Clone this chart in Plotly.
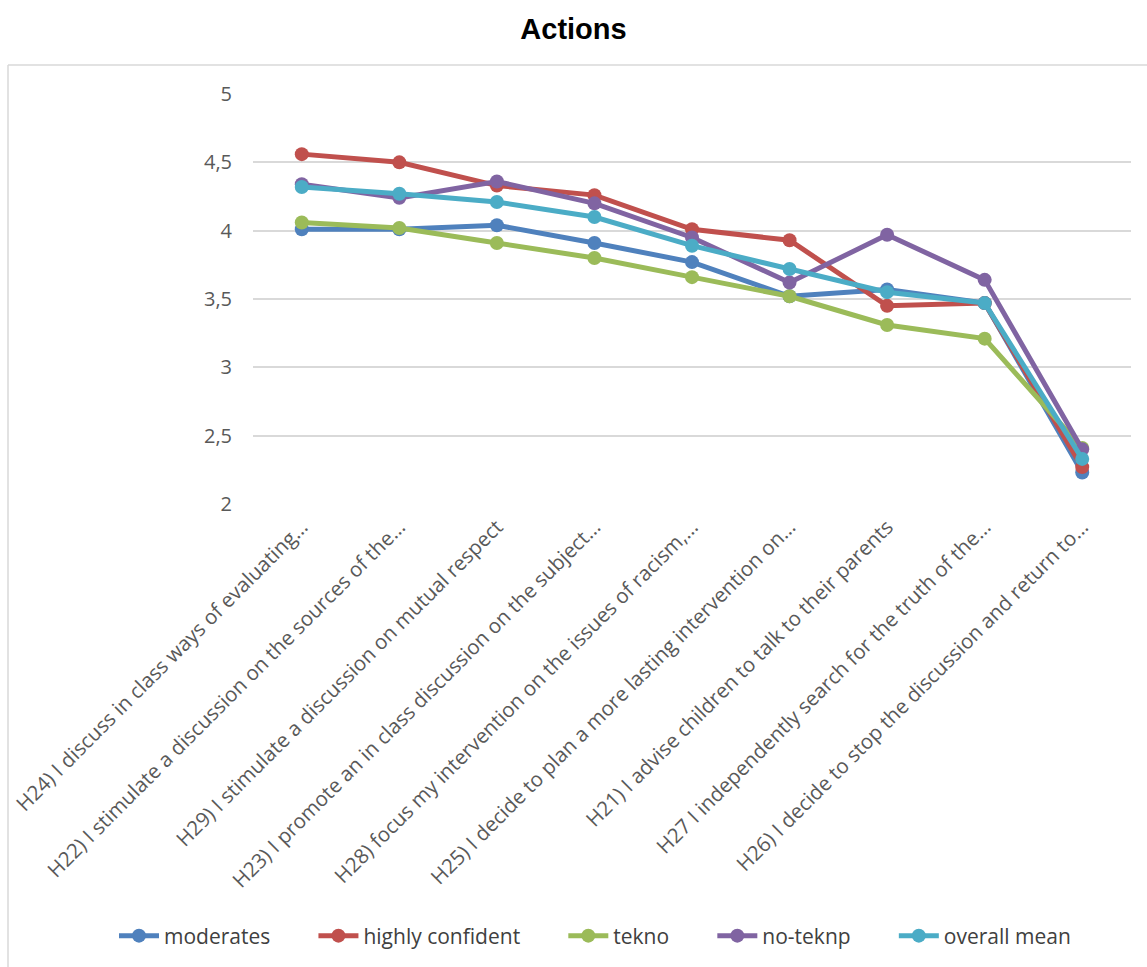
import plotly.graph_objects as go

categories = [
    "H24) I discuss in class ways of evaluating…",
    "H22) I stimulate a discussion on the sources of the…",
    "H29) I stimulate a discussion on mutual respect",
    "H23) I promote an in class discussion on the subject…",
    "H28) focus my intervention on the issues of racism,…",
    "H25) I decide to plan a more lasting intervention on…",
    "H21) I advise children to talk to their parents",
    "H27 I independently search for the truth of the…",
    "H26) I decide to stop the discussion and return to…",
]

moderates = [4.01, 4.01, 4.04, 3.91, 3.77, 3.52, 3.57, 3.47, 2.23]
highly_confident = [4.56, 4.50, 4.33, 4.26, 4.01, 3.93, 3.45, 3.47, 2.27]
tekno = [4.06, 4.02, 3.91, 3.80, 3.66, 3.52, 3.31, 3.21, 2.41]
no_teknp = [4.34, 4.24, 4.36, 4.20, 3.95, 3.62, 3.97, 3.64, 2.40]
overall_mean = [4.32, 4.27, 4.21, 4.10, 3.89, 3.72, 3.55, 3.47, 2.33]

series_names = ["moderates", "highly confident", "tekno", "no-teknp", "overall mean"]
series_values = [moderates, highly_confident, tekno, no_teknp, overall_mean]
series_colors = ["#4F81BD", "#C0504D", "#9BBB59", "#8064A2", "#4BACC6"]
legend_pad = [7, 7, 7, 7, 0]  # trailing non-breaking spaces to widen legend item gaps

y_ticks = [2, 2.5, 3, 3.5, 4, 4.5, 5]
y_tick_labels = ["2", "2,5", "3", "3,5", "4", "4,5", "5"]

fig = go.Figure()
for name, vals, color, pad in zip(series_names, series_values, series_colors, legend_pad):
    fig.add_trace(go.Scatter(
        x=categories, y=vals, name=name + "\u00a0" * pad, mode="lines+markers",
        line=dict(color=color, width=5),
        marker=dict(color=color, size=14),
    ))

W, H = 1147, 967
L, R, T, B = 253, 16, 94, 463
pw, ph = W - L - R, H - T - B

def px_x(p):
    return (p - L) / pw

def px_y(p):
    return (H - B - p) / ph

fig.update_layout(
    width=W, height=H,
    margin=dict(l=L, r=R, t=T, b=B, autoexpand=False),
    paper_bgcolor="white", plot_bgcolor="white",
    title=dict(text="<b>Actions</b>", x=0.5, xref="container", xanchor="center",
               y=1 - 29 / H, yref="container", yanchor="middle",
               font=dict(family="Liberation Sans, Arial", size=29, color="black")),
    font=dict(family="Open Sans", color="#595959"),
    showlegend=True,
    legend=dict(orientation="h", x=px_x(114), xref="paper", xanchor="left",
                y=px_y(936), yref="paper", yanchor="middle",
                font=dict(family="Open Sans", size=21, color="#404040"),
                itemwidth=40, traceorder="normal"),
    xaxis=dict(
        type="category", tickangle=-45, showgrid=False, showline=False,
        ticks="", tickfont=dict(size=20.5, color="#595959"),
        ticklabelstandoff=6,
        range=[-0.5, len(categories) - 0.5],
    ),
    yaxis=dict(
        range=[2, 5], tickvals=y_ticks, ticktext=y_tick_labels,
        showgrid=True, gridcolor="#D9D9D9", gridwidth=1.5,
        zeroline=False, showline=False, ticks="",
        tickfont=dict(size=20, color="#595959"),
        ticklabelstandoff=20,
    ),
    shapes=[
        dict(type="line", xref="paper", yref="paper",
             x0=px_x(8), x1=px_x(1160), y0=px_y(65), y1=px_y(65),
             line=dict(color="#D9D9D9", width=1.5)),
        dict(type="line", xref="paper", yref="paper",
             x0=px_x(8), x1=px_x(8), y0=px_y(65), y1=px_y(990),
             line=dict(color="#D9D9D9", width=1.5)),
    ],
)

fig.write_html("out.html")
